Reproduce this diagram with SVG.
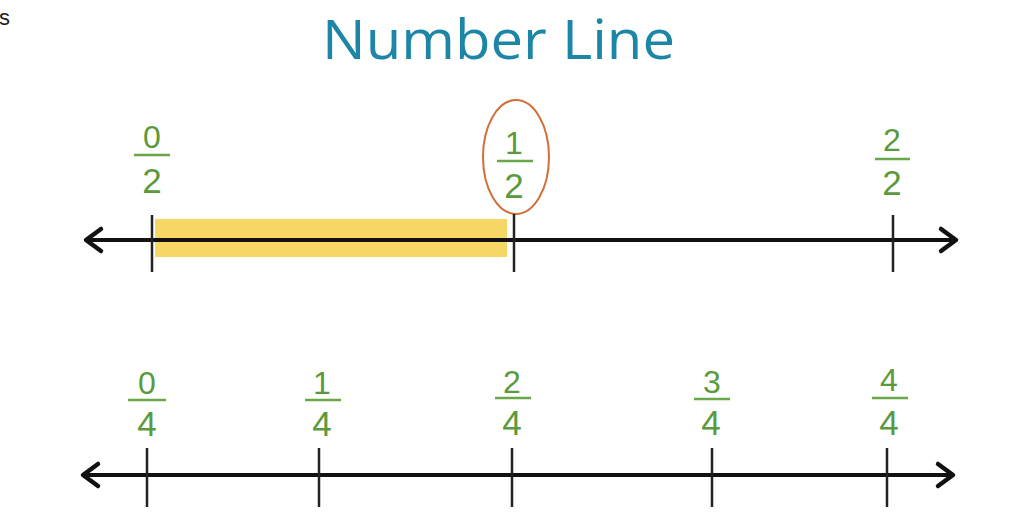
<svg xmlns="http://www.w3.org/2000/svg" width="1032" height="525" viewBox="0 0 1032 525">
<style>
.axis{stroke:#111;stroke-width:4;fill:none}
.head{stroke:#111;stroke-width:4.5;fill:none;stroke-linecap:round;stroke-linejoin:round}
.tick{stroke:#222;stroke-width:2.5}
.num{font-family:"Liberation Sans",Arial,sans-serif;font-size:32px;fill:#5a9a3c;text-anchor:middle}
.den{font-family:"Liberation Sans",Arial,sans-serif;font-size:35px;fill:#5a9a3c;text-anchor:middle}
.bar{stroke:#6aa64a;stroke-width:2.5}
.title{font-family:"Open Sans","DejaVu Sans",sans-serif;font-size:54px;fill:#1d86a6}
</style>
<rect width="1032" height="525" fill="#ffffff"/>
<text x="-1" y="25" font-family="Liberation Sans, Arial, sans-serif" font-size="22" fill="#222">s</text>
<text class="title" x="322" y="59" textLength="353" lengthAdjust="spacingAndGlyphs">Number Line</text>
<rect id="highlight" x="155" y="219" width="352" height="38" fill="#f6d765"/>
<g id="connectors">
<line class="axis" x1="86" y1="240" x2="956" y2="240"/>
<path class="head" d="M101,229 L86,240 L101,251"/>
<path class="head" d="M941,229 L956,240 L941,251"/>
<line class="axis" x1="83" y1="475" x2="953" y2="475"/>
<path class="head" d="M98,464 L83,475 L98,486"/>
<path class="head" d="M938,464 L953,475 L938,486"/>
</g>
<g id="t02"><line class="tick" x1="152" y1="215" x2="152" y2="272"/><text class="num" x="152" y="148">0</text><line class="bar" x1="134" y1="155" x2="170" y2="155"/><text class="den" x="152" y="193">2</text></g>
<g id="t12"><ellipse cx="516" cy="157" rx="33" ry="57" fill="none" stroke="#d0703a" stroke-width="2"/><line class="tick" x1="514" y1="214" x2="514" y2="272"/><text class="num" x="514" y="154">1</text><line class="bar" x1="497" y1="161" x2="533" y2="161"/><text class="den" x="514" y="198">2</text></g>
<g id="t22"><line class="tick" x1="893" y1="215" x2="893" y2="272"/><text class="num" x="892" y="151">2</text><line class="bar" x1="875" y1="159" x2="910" y2="159"/><text class="den" x="892" y="195">2</text></g>
<g id="q0"><line class="tick" x1="147" y1="448" x2="147" y2="507"/><text class="num" x="147" y="394">0</text><line class="bar" x1="128" y1="400" x2="166" y2="400"/><text class="den" x="147" y="436">4</text></g>
<g id="q1"><line class="tick" x1="319" y1="448" x2="319" y2="507"/><text class="num" x="322" y="394">1</text><line class="bar" x1="305" y1="400" x2="341" y2="400"/><text class="den" x="322" y="436">4</text></g>
<g id="q2"><line class="tick" x1="512" y1="448" x2="512" y2="507"/><text class="num" x="512" y="393">2</text><line class="bar" x1="495" y1="398" x2="531" y2="398"/><text class="den" x="512" y="435">4</text></g>
<g id="q3"><line class="tick" x1="712" y1="448" x2="712" y2="507"/><text class="num" x="712" y="393">3</text><line class="bar" x1="694" y1="399" x2="730" y2="399"/><text class="den" x="711" y="435">4</text></g>
<g id="q4"><line class="tick" x1="887" y1="448" x2="887" y2="507"/><text class="num" x="889" y="391">4</text><line class="bar" x1="872" y1="398" x2="908" y2="398"/><text class="den" x="889" y="435">4</text></g>
</svg>
